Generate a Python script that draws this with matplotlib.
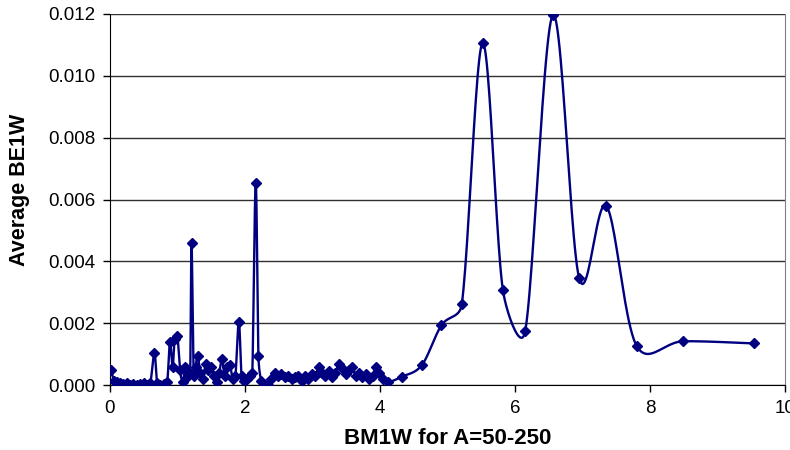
import numpy as np
import matplotlib
matplotlib.use("Agg")
import matplotlib.pyplot as plt

plt.rcParams['font.family'] = ['Liberation Sans', 'DejaVu Sans']

x_vals = [0.02, 0.06, 0.10, 0.15, 0.20, 0.25, 0.30, 0.35, 0.40, 0.45, 0.50, 0.55, 0.60,
          0.66, 0.70, 0.75, 0.80, 0.85, 0.89, 0.93, 0.96, 1.00, 1.04, 1.08, 1.12, 1.16,
          1.19, 1.21, 1.24, 1.27, 1.30, 1.34, 1.38, 1.42, 1.46, 1.50, 1.54, 1.58, 1.62,
          1.66, 1.70, 1.74, 1.78, 1.82, 1.86, 1.91, 1.95, 1.99, 2.03, 2.07, 2.11, 2.16,
          2.20, 2.24, 2.29, 2.34, 2.39, 2.44, 2.49, 2.54, 2.59, 2.64, 2.69, 2.74, 2.79,
          2.84, 2.89, 2.94, 2.99, 3.04, 3.09, 3.14, 3.19, 3.24, 3.29, 3.34, 3.39, 3.44,
          3.49, 3.54, 3.59, 3.64, 3.69, 3.74, 3.79, 3.84, 3.89, 3.94, 3.99, 4.04, 4.12,
          4.32, 4.62, 4.91, 5.21, 5.52, 5.82, 6.15, 6.56, 6.95, 7.35, 7.80, 8.49, 9.54]
y_vals = [0.00050, 0.00015, 0.00010, 0.00006, 0.00004, 0.00008, 0.00002, 0.00005, 0.00000,
          0.00004, 0.00008, 0.00002, 0.00006, 0.00104, 0.00008, 0.00000, 0.00003, 0.00010,
          0.00140, 0.00060, 0.00150, 0.00160, 0.00050, 0.00010, 0.00060, 0.00030, 0.00040,
          0.00460, 0.00030, 0.00060, 0.00095, 0.00040, 0.00020, 0.00070, 0.00050, 0.00060,
          0.00030, 0.00010, 0.00040, 0.00085, 0.00030, 0.00060, 0.00065, 0.00020, 0.00030,
          0.00205, 0.00030, 0.00015, 0.00020, 0.00030, 0.00040, 0.00655, 0.00095, 0.00015,
          0.00005, 0.00002, 0.00020, 0.00040, 0.00030, 0.00035, 0.00025, 0.00030, 0.00020,
          0.00025, 0.00030, 0.00015, 0.00030, 0.00020, 0.00035, 0.00030, 0.00058, 0.00040,
          0.00030, 0.00045, 0.00025, 0.00040, 0.00068, 0.00055, 0.00035, 0.00050, 0.00058,
          0.00030, 0.00040, 0.00025, 0.00035, 0.00020, 0.00030, 0.00060, 0.00040, 0.00020,
          0.00010, 0.00027, 0.00065, 0.00194, 0.00261, 0.01106, 0.00307, 0.00175, 0.01197,
          0.00345, 0.00580, 0.00127, 0.00142, 0.00135]

x_ticks = [0, 2, 4, 6, 8, 10]
y_ticks = [0.000, 0.002, 0.004, 0.006, 0.008, 0.010, 0.012]
x_label = "BM1W for A=50-250"
y_label = "Average BE1W"


def smooth_display(P, n=24):
    # Spreadsheet-style smoothed line: cubic Bezier, tangent (P2-P0)/6,
    # clamped to half the segment length (computed in display space)
    P = np.asarray(P, float)
    Q = np.vstack([P[0], P, P[-1]])
    out = []
    t = np.linspace(0, 1, n, endpoint=False)[:, None]
    for i in range(1, len(Q) - 2):
        p0, p1, p2, p3 = Q[i - 1], Q[i], Q[i + 1], Q[i + 2]
        d12 = np.hypot(*(p2 - p1))
        d02 = np.hypot(*(p2 - p0))
        d13 = np.hypot(*(p3 - p1))
        f0 = 1 / 6
        if d02 / 6 > d12 / 2 and d02 > 0:
            f0 = d12 / (2 * d02)
        f1 = 1 / 6
        if d13 / 6 > d12 / 2 and d13 > 0:
            f1 = d12 / (2 * d13)
        c1 = p1 + (p2 - p0) * f0
        c2 = p2 - (p3 - p1) * f1
        b = (1 - t) ** 3 * p1 + 3 * (1 - t) ** 2 * t * c1 + 3 * (1 - t) * t ** 2 * c2 + t ** 3 * p2
        out.append(b)
    out.append(P[-1][None, :])
    return np.vstack(out)


fig = plt.figure(figsize=(7.9, 4.5), dpi=100)
ax = fig.add_axes([0.139, 0.144, 0.855, 0.825])
ax.set_xlim(0, 10)
ax.set_ylim(0, 0.012)

color = '#000080'
disp = ax.transData.transform(np.column_stack([x_vals, y_vals]))
curve = ax.transData.inverted().transform(smooth_display(disp))
ax.plot(curve[:, 0], curve[:, 1], color=color, lw=1.7, zorder=3)
ax.plot(x_vals, y_vals, ls='none', marker='D', ms=4.8, color=color, zorder=4)

ax.set_xticks(x_ticks)
ax.set_yticks(y_ticks)
ax.set_xticklabels([str(v) for v in x_ticks], fontsize=13.5)
ax.set_yticklabels([f"{v:.3f}" for v in y_ticks], fontsize=13.5)
ax.yaxis.grid(True, color='#303030', lw=1.0)
ax.set_axisbelow(True)
ax.tick_params(direction='out', length=5, width=1, color='black')
ax.tick_params(axis='x', pad=6)
ax.tick_params(axis='y', pad=5.5)

ax.spines['top'].set_visible(False)
ax.spines['right'].set_color('#808080')
ax.spines['left'].set_color('black')
ax.spines['bottom'].set_color('black')

ax.set_xlabel(x_label, fontsize=16, fontweight='bold')
ax.set_ylabel(y_label, fontsize=15.5, fontweight='bold')
ax.xaxis.set_label_coords(0.5, -0.116)
ax.yaxis.set_label_coords(-0.1185, 0.525)

fig.savefig('out.png', dpi=100)
